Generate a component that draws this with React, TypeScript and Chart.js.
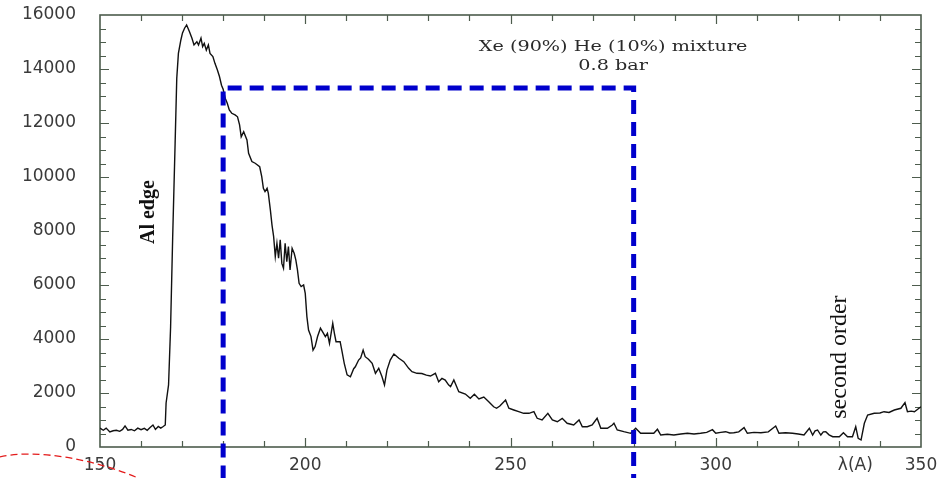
import { useEffect, useRef } from 'react';
import { Chart, registerables } from 'chart.js';

Chart.register(...registerables);

// Transmitted intensity versus wavelength (Å)
const wavelength = [
  150.0, 150.8, 151.5, 152.4, 153.2, 154.0, 154.8, 155.5, 156.1, 156.8,
  157.6, 158.4, 159.2, 160.0, 160.8, 161.5, 162.2, 162.9, 163.5, 164.2,
  164.8, 165.4, 165.9, 166.1, 166.7, 167.2, 167.7, 168.3, 168.7, 169.1,
  169.7, 170.1, 170.6, 171.1, 171.8, 172.4, 172.9, 173.6, 174.0, 174.6,
  175.0, 175.4, 175.9, 176.4, 176.8, 177.5, 178.0, 178.6, 179.1, 179.6,
  180.0, 180.5, 181.0, 181.5, 182.1, 182.9, 183.5, 184.0, 184.4, 185.0,
  185.8, 186.2, 187.0, 187.8, 188.9, 189.4, 189.8, 190.2, 190.7, 191.0,
  191.5, 191.9, 192.3, 192.7, 193.1, 193.5, 193.9, 194.3, 194.7, 195.1,
  195.5, 195.9, 196.3, 196.8, 197.3, 197.7, 198.1, 198.5, 199.0, 199.6,
  200.0, 200.4, 200.8, 201.4, 201.9, 202.4, 203.0, 203.7, 204.2, 204.9,
  205.4, 205.9, 206.3, 206.7, 207.1, 207.5, 208.5, 208.9, 209.5, 210.2,
  211.0, 211.8, 212.2, 213.0, 213.5, 214.1, 214.6, 215.4, 216.3, 217.1,
  217.9, 218.7, 219.3, 219.9, 220.7, 221.6, 222.8, 224.0, 225.2, 226.0,
  227.2, 228.4, 229.5, 230.5, 231.7, 232.5, 233.3, 234.1, 234.9, 235.4,
  236.2, 237.4, 239.0, 240.2, 241.2, 242.3, 243.5, 244.7, 245.9, 246.6,
  247.4, 248.8, 249.6, 250.8, 252.0, 253.2, 254.5, 255.7, 256.5, 257.7,
  259.1, 260.2, 261.4, 262.6, 263.8, 265.4, 266.7, 267.5, 268.7, 269.9,
  271.1, 272.0, 273.6, 274.8, 275.2, 276.0, 277.6, 279.3, 280.5, 281.7,
  283.3, 284.9, 285.8, 286.6, 288.2, 289.8, 291.5, 293.1, 294.7, 296.3,
  297.8, 299.2, 300.0, 301.2, 302.4, 303.4, 304.4, 305.6, 306.9, 307.7,
  309.3, 311.0, 312.8, 314.6, 315.4, 317.0, 318.7, 320.1, 321.5, 322.8,
  323.6, 324.2, 324.8, 325.6, 326.2, 326.8, 327.6, 328.5, 330.1, 331.1,
  332.1, 333.3, 334.1, 334.7, 335.4, 336.2, 337.0, 338.6, 340.0, 341.0,
  342.2, 343.5, 345.1, 346.1, 346.7, 347.6, 348.4, 349.2, 350.0,
];

const counts = [
  700, 620, 700, 555, 600, 620, 580, 650, 780, 620,
  650, 600, 700, 640, 690, 620, 720, 815, 650, 760,
  700, 760, 815, 1630, 2300, 4450, 7740, 11260, 13660, 14580,
  15075, 15335, 15510, 15630, 15380, 15140, 14890, 15010, 14890, 15140,
  14830, 14950, 14700, 14890, 14580, 14460, 14210, 13960, 13720, 13400,
  13250, 12920, 12730, 12480, 12360, 12300, 12230, 11930, 11490, 11680,
  11370, 10880, 10570, 10510, 10380, 10010, 9580, 9460, 9580, 9400,
  8780, 8220, 7790, 7050, 7545, 6990, 7670, 6800, 6620, 7545,
  6860, 7420, 6560, 7360, 7175, 6930, 6560, 6060, 5940, 6000,
  5690, 4830, 4330, 4090, 3590, 3720, 4090, 4400, 4270, 4090,
  4210, 3840, 4210, 4580, 4210, 3900, 3900, 3590, 3100, 2670,
  2600, 2900, 2970, 3220, 3300, 3590, 3345, 3250, 3100, 2730,
  2915, 2600, 2300, 2850, 3220, 3445, 3285, 3160, 2915, 2790,
  2730, 2720, 2660, 2630, 2730, 2420, 2540, 2480, 2300, 2234,
  2480, 2048, 1960, 1804, 1950, 1780, 1850, 1678, 1490, 1434,
  1520, 1741, 1434, 1370, 1308, 1248, 1248, 1308, 1063, 1000,
  1248, 1000, 937, 1063, 878, 815, 1000, 752, 752, 815,
  1063, 693, 693, 815, 878, 630, 567, 507, 693, 507,
  507, 507, 656, 444, 470, 444, 480, 507, 480, 507,
  540, 640, 507, 540, 567, 520, 530, 560, 716, 507,
  540, 530, 560, 778, 507, 530, 507, 480, 444, 693,
  444, 600, 630, 444, 560, 567, 450, 382, 382, 530,
  382, 382, 752, 322, 259, 878, 1185, 1248, 1260, 1308,
  1280, 1370, 1434, 1641, 1308, 1330, 1308, 1400, 1493,
];

// Selected wavelength window (dashed outline)
const windowX = [180, 180, 280, 280];
const windowY = [-1200, 13300, 13300, -1200];

const xTickValues = [150, 200, 250, 300, 334, 350];
const xTickLabels = ['150', '200', '250', '300', 'λ(A)', '350'];
const yTickValues = [0, 2000, 4000, 6000, 8000, 10000, 12000, 14000, 16000];

const gasLabel = ['Xe (90%) He (10%) mixture', '0.8 bar'];
const edgeLabel = 'Al edge';
const orderLabel = 'second order';

const FRAME = '#4d5c4d';
const TICK_TEXT = '#3a3a3a';

// Boxed frame with inward minor/major ticks on all four sides
function drawFrame(chart: any) {
  const { ctx, chartArea: a, scales } = chart;
  const x = scales.x;
  const y = scales.y;
  ctx.save();
  ctx.setLineDash([]);
  ctx.strokeStyle = FRAME;
  ctx.lineWidth = 1.6;
  ctx.strokeRect(a.left, a.top, a.right - a.left, a.bottom - a.top);
  ctx.lineWidth = 1.2;
  ctx.beginPath();
  for (let v = x.min + 10; v < x.max; v += 10) {
    const px = Math.round(x.getPixelForValue(v)) + 0.5;
    const len = v % 50 === 0 ? 9 : 6;
    ctx.moveTo(px, a.bottom);
    ctx.lineTo(px, a.bottom - len);
    ctx.moveTo(px, a.top);
    ctx.lineTo(px, a.top + len);
  }
  for (let v = y.min + 500; v < y.max; v += 500) {
    const py = Math.round(y.getPixelForValue(v)) + 0.5;
    const len = v % 2000 === 0 ? 9 : 6;
    ctx.moveTo(a.left, py);
    ctx.lineTo(a.left + len, py);
    ctx.moveTo(a.right, py);
    ctx.lineTo(a.right - len, py);
  }
  ctx.stroke();
  ctx.restore();
}

const framePlugin = {
  id: 'plotFrame',
  beforeDatasetsDraw(chart: any) {
    drawFrame(chart);
    chart.$framed = true;
  },
  afterDraw(chart: any) {
    if (!chart.$framed) drawFrame(chart);
    chart.$framed = false;
  },
};

function drawVertical(ctx: CanvasRenderingContext2D, text: string, cx: number, cy: number, font: string) {
  ctx.save();
  ctx.translate(cx, cy);
  ctx.rotate(-Math.PI / 2);
  ctx.font = font;
  ctx.textAlign = 'center';
  ctx.textBaseline = 'middle';
  ctx.fillText(text, 0, 0);
  ctx.restore();
}

const notesPlugin = {
  id: 'notes',
  afterDatasetsDraw(chart: any) {
    const { ctx, scales } = chart;
    const x = scales.x;
    const y = scales.y;
    ctx.save();

    // gas mixture caption, wide slab-serif lettering
    ctx.fillStyle = '#2a2a2a';
    ctx.font = '15px "DejaVu Serif"';
    ctx.textAlign = 'center';
    ctx.textBaseline = 'middle';
    const cx = x.getPixelForValue(275);
    const rows = [14800, 14100];
    gasLabel.forEach((t, i) => {
      ctx.save();
      ctx.translate(cx, y.getPixelForValue(rows[i]));
      ctx.scale(1.28, 1);
      ctx.fillText(t, 0, 0);
      ctx.restore();
    });

    ctx.fillStyle = '#111';
    drawVertical(ctx, edgeLabel, x.getPixelForValue(161.8), y.getPixelForValue(8700), 'bold 20px "Liberation Serif"');
    drawVertical(ctx, orderLabel, x.getPixelForValue(330.2), y.getPixelForValue(3330), '24px "Liberation Serif"');

    // red dashed marker arc near the lower-left corner
    const p = (vx: number, vy: number) => [x.getPixelForValue(vx), y.getPixelForValue(vy)];
    const [x0, y0] = p(125.6, -370);
    const [x1, y1] = p(134.1, -56);
    const [x2, y2] = p(148.8, -444);
    const [x3, y3] = p(159.8, -1185);
    ctx.strokeStyle = '#e31b1b';
    ctx.lineWidth = 1.3;
    ctx.setLineDash([7, 4]);
    ctx.beginPath();
    ctx.moveTo(x0, y0);
    ctx.bezierCurveTo(x1, y1, x2, y2, x3, y3);
    ctx.stroke();
    ctx.restore();
  },
};

export default function App() {
  const ref = useRef<HTMLCanvasElement>(null);

  useEffect(() => {
    const canvas = ref.current;
    if (!canvas) return;
    const spectrum = wavelength.map((w, i) => ({ x: w, y: counts[i] }));
    const windowPts = windowX.map((w, i) => ({ x: w, y: windowY[i] }));
    const tickFont = { family: '"DejaVu Sans"', size: 17 };

    const chart = new Chart(canvas, {
      type: 'scatter',
      data: {
        datasets: [
          {
            label: 'window',
            data: windowPts,
            showLine: true,
            borderColor: '#0000cc',
            borderWidth: 5,
            borderDash: [14, 8],
            pointRadius: 0,
            fill: false,
            clip: false as any,
          },
          {
            label: 'spectrum',
            data: spectrum,
            showLine: true,
            borderColor: '#111111',
            borderWidth: 1.4,
            pointRadius: 0,
            fill: false,
            tension: 0,
          },
        ],
      },
      options: {
        animation: false,
        responsive: false,
        maintainAspectRatio: false,
        layout: { padding: { top: 15, right: 26, left: 0, bottom: 0 } },
        plugins: { legend: { display: false }, tooltip: { enabled: false } },
        scales: {
          x: {
            type: 'linear',
            min: 150,
            max: 350,
            grid: { display: false, drawTicks: false },
            border: { display: false },
            afterBuildTicks: (s: any) => {
              s.ticks = xTickValues.map((v) => ({ value: v }));
            },
            afterFit: (s: any) => {
              s.height = 31;
            },
            ticks: {
              autoSkip: false,
              maxRotation: 0,
              padding: 8,
              color: TICK_TEXT,
              font: tickFont,
              callback: (v: any) => {
                const i = xTickValues.indexOf(Number(v));
                return i >= 0 ? xTickLabels[i] : '';
              },
            },
          },
          y: {
            min: 0,
            max: 16000,
            grid: {
              display: true,
              drawOnChartArea: false,
              drawTicks: true,
              tickLength: 20,
              tickColor: 'rgba(0,0,0,0)',
            },
            border: { display: false },
            afterBuildTicks: (s: any) => {
              s.ticks = yTickValues.map((v) => ({ value: v }));
            },
            afterFit: (s: any) => {
              s.width = 100;
            },
            ticks: {
              padding: 4,
              color: TICK_TEXT,
              font: tickFont,
              callback: (v: any) => String(v),
            },
          },
        },
      },
      plugins: [framePlugin, notesPlugin],
    });
    return () => chart.destroy();
  }, []);

  return (
    <div style={{ position: 'absolute', left: 0, top: 0, width: 947, height: 478, background: '#fff' }}>
      <canvas ref={ref} width={947} height={478} style={{ display: 'block' }} />
    </div>
  );
}
